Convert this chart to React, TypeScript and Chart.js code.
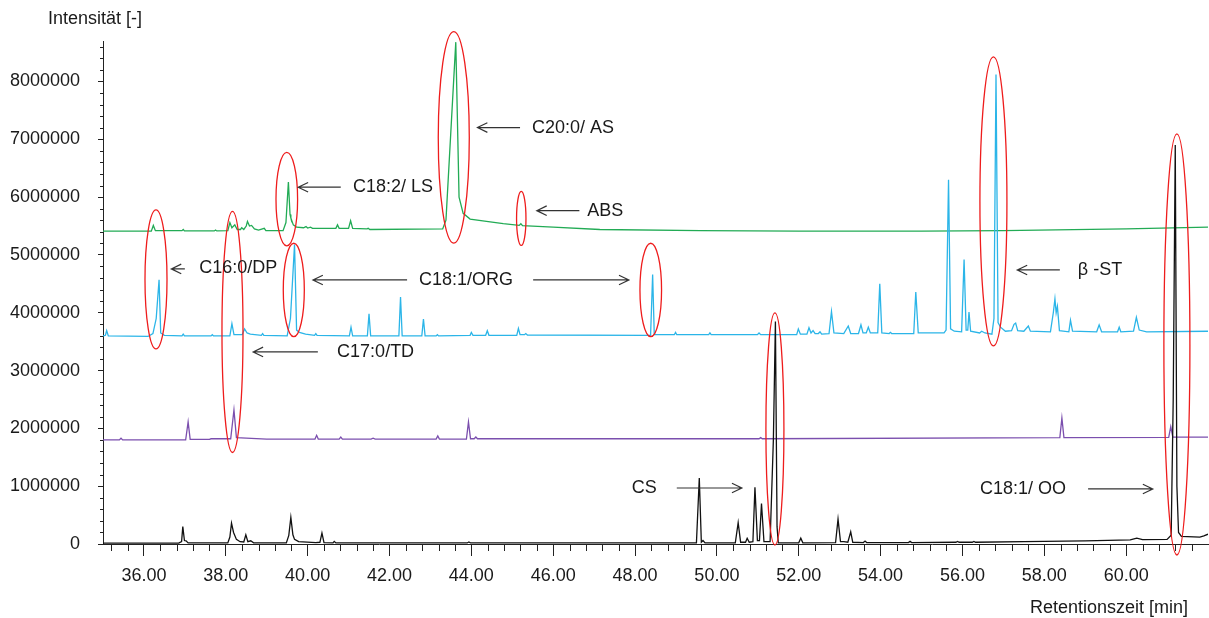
import React, { useEffect, useRef } from 'react';
import { Chart, registerables } from 'chart.js';

Chart.register(...registerables);

const FONT = "'Liberation Sans', Arial, Helvetica, sans-serif";

// Chromatogram traces: [retention time (min), intensity]
const blackTrace: [number, number][] = [
  [35.0, 15000], [36.85, 15000], [36.92, 40000], [36.95, 300000], [36.99, 60000], [37.03, 55000], [37.08, 20000],
  [38.05, 20000], [38.1, 120000], [38.14, 360000], [38.19, 200000], [38.26, 80000], [38.35, 40000], [38.44, 35000],
  [38.49, 160000], [38.54, 40000], [38.61, 55000], [38.68, 20000], [39.48, 20000], [39.54, 150000], [39.59, 460000],
  [39.64, 160000], [39.68, 80000], [39.78, 40000], [40.2, 25000], [40.3, 30000], [40.35, 190000], [40.4, 25000],
  [40.62, 20000], [40.65, 45000], [40.69, 18000], [43.9, 18000], [43.94, 35000], [43.98, 18000], [49.5, 18000],
  [49.57, 1140000], [49.62, 30000], [49.66, 60000], [49.71, 18000], [50.45, 20000], [50.52, 370000], [50.58, 30000],
  [50.7, 30000], [50.74, 100000], [50.79, 30000], [50.88, 40000], [50.93, 980000], [50.99, 60000], [51.04, 60000],
  [51.09, 700000], [51.15, 40000], [51.3, 40000], [51.38, 1800000], [51.43, 3850000], [51.47, 300000], [51.5, 20000],
  [52.0, 20000], [52.05, 100000], [52.1, 20000], [52.9, 25000], [52.96, 430000], [53.02, 40000], [53.1, 40000],
  [53.2, 30000], [53.27, 210000], [53.32, 30000], [53.58, 25000], [53.62, 50000], [53.66, 25000], [54.68, 25000],
  [54.72, 45000], [54.76, 25000], [55.84, 30000], [55.88, 45000], [55.92, 30000], [56.24, 30000], [56.28, 45000],
  [56.32, 30000], [57.5, 40000], [59.0, 55000], [60.1, 70000], [60.26, 100000], [60.4, 75000], [61.0, 80000],
  [61.1, 150000], [61.15, 2500000], [61.2, 6900000], [61.24, 1000000], [61.28, 200000], [61.35, 130000],
  [61.8, 120000], [61.9, 140000], [62.0, 170000],
];

const purpleTrace: [number, number][] = [
  [35.0, 1800000], [35.4, 1800000], [35.44, 1830000], [35.48, 1800000], [37.02, 1800000], [37.08, 2110000],
  [37.13, 1810000], [37.6, 1810000], [37.64, 1820000], [38.12, 1820000], [38.2, 2320000], [38.26, 1840000],
  [38.5, 1830000], [39.0, 1815000], [40.18, 1815000], [40.22, 1880000], [40.26, 1815000], [40.77, 1815000],
  [40.81, 1850000], [40.85, 1815000], [41.55, 1815000], [41.6, 1830000], [41.65, 1815000], [43.14, 1815000],
  [43.18, 1870000], [43.22, 1815000], [43.88, 1815000], [43.93, 2110000], [43.98, 1820000], [44.07, 1820000],
  [44.11, 1850000], [44.15, 1820000], [51.03, 1820000], [51.07, 1840000], [51.11, 1820000], [58.38, 1840000],
  [58.43, 2180000], [58.48, 1840000], [61.04, 1845000], [61.09, 2030000], [61.14, 1850000], [62.0, 1850000],
];

const blueTrace: [number, number][] = [
  [35.0, 3600000], [35.06, 3610000], [35.09, 3690000], [35.13, 3600000], [36.1, 3590000], [36.22, 3640000],
  [36.3, 3900000], [36.37, 4570000], [36.41, 3650000], [36.5, 3610000], [36.93, 3600000], [36.96, 3630000],
  [36.99, 3600000], [37.64, 3600000], [37.67, 3620000], [37.7, 3600000], [38.1, 3600000], [38.15, 3810000],
  [38.2, 3620000], [38.4, 3620000], [38.46, 3720000], [38.52, 3650000], [38.6, 3630000], [38.87, 3610000],
  [38.9, 3640000], [38.93, 3610000], [39.5, 3600000], [39.58, 3900000], [39.68, 5180000], [39.73, 3700000],
  [39.8, 3660000], [39.95, 3630000], [40.17, 3610000], [40.2, 3640000], [40.23, 3610000], [41.02, 3600000],
  [41.06, 3750000], [41.1, 3600000], [41.46, 3600000], [41.5, 3980000], [41.54, 3600000], [42.23, 3600000],
  [42.27, 4270000], [42.31, 3600000], [42.79, 3600000], [42.83, 3890000], [42.87, 3600000], [43.14, 3600000],
  [43.17, 3620000], [43.2, 3600000], [43.97, 3610000], [44.0, 3660000], [44.04, 3610000], [44.35, 3610000],
  [44.39, 3690000], [44.43, 3610000], [45.11, 3610000], [45.15, 3730000], [45.19, 3620000], [45.3, 3620000],
  [45.33, 3640000], [45.37, 3615000], [48.38, 3610000], [48.43, 4660000], [48.47, 3620000], [48.96, 3620000],
  [48.99, 3660000], [49.02, 3620000], [49.8, 3620000], [49.83, 3650000], [49.86, 3620000], [50.99, 3620000],
  [51.03, 3650000], [51.07, 3620000], [51.95, 3620000], [51.99, 3720000], [52.04, 3630000], [52.2, 3630000],
  [52.25, 3740000], [52.3, 3650000], [52.35, 3690000], [52.4, 3640000], [52.48, 3640000], [52.52, 3670000],
  [52.56, 3630000], [52.74, 3640000], [52.8, 4020000], [52.86, 3650000], [53.1, 3640000], [53.21, 3770000],
  [53.27, 3640000], [53.46, 3640000], [53.52, 3790000], [53.57, 3650000], [53.65, 3650000], [53.7, 3750000],
  [53.75, 3650000], [53.93, 3650000], [53.98, 4500000], [54.03, 3650000], [54.21, 3640000], [54.24, 3660000],
  [54.27, 3640000], [54.81, 3640000], [54.86, 4360000], [54.92, 3650000], [55.55, 3650000], [55.6, 3700000],
  [55.66, 6300000], [55.71, 3720000], [55.8, 3680000], [55.98, 3670000], [56.04, 4920000], [56.09, 3700000],
  [56.13, 3700000], [56.16, 4010000], [56.2, 3680000], [56.42, 3650000], [56.47, 3680000], [56.55, 3650000],
  [56.72, 3630000], [56.77, 3900000], [56.82, 8120000], [56.87, 3830000], [56.93, 3750000], [57.05, 3680000],
  [57.2, 3690000], [57.26, 3800000], [57.3, 3820000], [57.35, 3690000], [57.5, 3680000], [57.61, 3770000],
  [57.66, 3680000], [58.15, 3670000], [58.22, 4000000], [58.26, 4240000], [58.29, 4000000], [58.32, 4110000],
  [58.37, 3690000], [58.6, 3670000], [58.64, 3870000], [58.69, 3680000], [59.28, 3670000], [59.34, 3790000],
  [59.4, 3670000], [59.79, 3670000], [59.83, 3750000], [59.87, 3670000], [60.18, 3680000], [60.25, 3920000],
  [60.32, 3700000], [60.5, 3670000], [62.0, 3680000],
];

const greenTrace: [number, number][] = [
  [35.0, 5410000], [35.5, 5410000], [36.18, 5410000], [36.23, 5510000], [36.28, 5420000], [36.93, 5420000],
  [36.96, 5440000], [36.99, 5415000], [37.72, 5415000], [37.75, 5430000], [37.78, 5415000], [38.05, 5420000],
  [38.1, 5560000], [38.15, 5470000], [38.22, 5520000], [38.28, 5440000], [38.36, 5440000], [38.39, 5470000],
  [38.44, 5440000], [38.5, 5500000], [38.53, 5580000], [38.58, 5500000], [38.63, 5510000], [38.7, 5450000],
  [38.8, 5430000], [38.94, 5460000], [38.98, 5420000], [39.4, 5420000], [39.47, 5560000], [39.53, 6260000],
  [39.57, 5700000], [39.59, 5640000], [39.65, 5520000], [39.73, 5480000], [39.9, 5470000], [39.96, 5490000],
  [40.0, 5465000], [40.07, 5480000], [40.12, 5460000], [40.69, 5460000], [40.73, 5520000], [40.77, 5460000],
  [41.0, 5460000], [41.05, 5590000], [41.1, 5460000], [41.45, 5450000], [41.48, 5460000], [41.52, 5440000],
  [43.3, 5450000], [43.38, 5600000], [43.62, 8680000], [43.7, 6000000], [43.8, 5720000], [43.97, 5620000],
  [44.37, 5580000], [44.78, 5540000], [45.17, 5510000], [45.21, 5540000], [45.25, 5505000], [46.0, 5480000],
  [47.14, 5440000], [49.6, 5420000], [52.0, 5410000], [55.0, 5410000], [57.0, 5420000], [60.0, 5450000],
  [62.0, 5480000],
];

const xMajorTicks = [36, 38, 40, 42, 44, 46, 48, 50, 52, 54, 56, 58, 60];
const yMajorTicks = [0, 1000000, 2000000, 3000000, 4000000, 5000000, 6000000, 7000000, 8000000];

const yAxisTitle = 'Intensität [-]';
const xAxisTitle = 'Retentionszeit [min]';

// peak labels: text, time, intensity (left edge / vertical centre)
const peakLabels: { text: string; t: number; v: number }[] = [
  { text: 'C20:0/ AS', t: 45.48, v: 7203000 },
  { text: 'C18:2/ LS', t: 41.11, v: 6171000 },
  { text: 'ABS', t: 46.83, v: 5766000 },
  { text: 'C16:0/DP', t: 37.35, v: 4767000 },
  { text: 'C18:1/ORG', t: 42.72, v: 4567000 },
  { text: 'C17:0/TD', t: 40.72, v: 3322000 },
  { text: 'β -ST', t: 58.82, v: 4740000 },
  { text: 'CS', t: 47.92, v: 969000 },
  { text: 'C18:1/ OO', t: 56.43, v: 952000 },
];

// arrows: tail -> tip, [time, intensity]
const peakArrows: { from: [number, number]; to: [number, number] }[] = [
  { from: [45.19, 7203000], to: [44.15, 7203000] },
  { from: [40.81, 6171000], to: [39.77, 6171000] },
  { from: [46.64, 5766000], to: [45.6, 5766000] },
  { from: [37.0, 4758000], to: [36.67, 4758000] },
  { from: [42.43, 4567000], to: [40.13, 4567000] },
  { from: [45.51, 4567000], to: [47.85, 4567000] },
  { from: [40.25, 3322000], to: [38.67, 3322000] },
  { from: [58.38, 4740000], to: [57.34, 4740000] },
  { from: [49.02, 969000], to: [50.61, 969000] },
  { from: [59.07, 952000], to: [60.65, 952000] },
];

// highlight ellipses: [centre time, centre intensity, time radius, intensity radius]
const highlightEllipses: [number, number, number, number][] = [
  [36.295, 4576000, 0.269, 1202000],
  [38.164, 3668000, 0.257, 2085000],
  [39.491, 5964000, 0.264, 808000],
  [39.662, 4394000, 0.257, 808000],
  [43.571, 7033000, 0.379, 1830000],
  [45.22, 5631000, 0.115, 467000],
  [48.384, 4394000, 0.264, 808000],
  [51.418, 1990000, 0.22, 2007000],
  [56.757, 5926000, 0.33, 2500000],
  [61.24, 3452000, 0.318, 3642000],
];

const overlayPlugin = {
  id: 'overlay',
  afterDraw(chart: any) {
    const ctx: CanvasRenderingContext2D = chart.ctx;
    const xs = chart.scales.x;
    const ys = chart.scales.y;
    const ca = chart.chartArea;
    const X = (t: number) => xs.getPixelForValue(t);
    const Y = (v: number) => ys.getPixelForValue(v);
    ctx.save();

    // minor ticks
    ctx.strokeStyle = '#222';
    ctx.lineWidth = 1;
    ctx.beginPath();
    for (let k = 0; k <= 66; k++) {
      if (k % 5 === 2) continue;
      const px = Math.round(X(35.2 + 0.4 * k)) + 0.5;
      ctx.moveTo(px, ca.bottom);
      ctx.lineTo(px, ca.bottom + 7);
    }
    for (let k = 1; k <= 43; k++) {
      if (k % 5 === 0) continue;
      const py = Math.round(Y(200000 * k)) + 0.5;
      ctx.moveTo(ca.left - 3, py);
      ctx.lineTo(ca.left, py);
    }
    ctx.stroke();

    // ellipses
    ctx.strokeStyle = '#ee1c1c';
    ctx.lineWidth = 1.3;
    for (const [t, v, dt, dv] of highlightEllipses) {
      const cx = X(t);
      const cy = Y(v);
      const rx = Math.abs(X(t + dt) - cx);
      const ry = Math.abs(Y(v + dv) - cy);
      ctx.beginPath();
      ctx.ellipse(cx, cy, rx, ry, 0, 0, Math.PI * 2);
      ctx.stroke();
    }

    // arrows
    ctx.strokeStyle = '#333';
    ctx.lineWidth = 1.2;
    for (const a of peakArrows) {
      const x1 = X(a.from[0]);
      const y1 = Y(a.from[1]);
      const x2 = X(a.to[0]);
      const y2 = Y(a.to[1]);
      const ang = Math.atan2(y2 - y1, x2 - x1);
      ctx.beginPath();
      ctx.moveTo(x1, y1);
      ctx.lineTo(x2, y2);
      const hl = 11;
      const hw = 0.45;
      ctx.moveTo(x2 - hl * Math.cos(ang - hw), y2 - hl * Math.sin(ang - hw));
      ctx.lineTo(x2, y2);
      ctx.lineTo(x2 - hl * Math.cos(ang + hw), y2 - hl * Math.sin(ang + hw));
      ctx.stroke();
    }

    // labels
    ctx.fillStyle = '#1a1a1a';
    ctx.font = `18px ${FONT}`;
    ctx.textAlign = 'left';
    ctx.textBaseline = 'middle';
    for (const l of peakLabels) {
      ctx.fillText(l.text, X(l.t), Y(l.v));
    }

    // axis titles
    ctx.textAlign = 'left';
    ctx.fillText(yAxisTitle, ca.left - 55, ca.top - 22);
    ctx.textAlign = 'right';
    ctx.fillText(xAxisTitle, ca.right - 20, ca.bottom + 64);
    ctx.restore();
  },
};

export default function App() {
  const canvasRef = useRef<HTMLCanvasElement | null>(null);

  useEffect(() => {
    const canvas = canvasRef.current;
    if (!canvas) return;
    const mk = (data: [number, number][], color: string) => ({
      data: data.map(([x, y]) => ({ x, y })),
      borderColor: color,
      backgroundColor: color,
      borderWidth: 1.3,
      pointRadius: 0,
      tension: 0,
      fill: false,
    });
    const chart = new Chart(canvas, {
      type: 'line',
      data: {
        datasets: [
          mk(blackTrace, '#111111'),
          mk(purpleTrace, '#7b4fae'),
          mk(blueTrace, '#2bb5e8'),
          mk(greenTrace, '#22ab55'),
        ],
      },
      options: {
        animation: false,
        responsive: true,
        maintainAspectRatio: false,
        layout: { padding: { top: 41, right: 1, left: 0, bottom: 0 } },
        plugins: { legend: { display: false }, tooltip: { enabled: false }, title: { display: false } },
        scales: {
          x: {
            type: 'linear',
            min: 35,
            max: 62,
            afterBuildTicks: (s: any) => {
              s.ticks = xMajorTicks.map((value) => ({ value }));
            },
            afterFit: (s: any) => {
              s.height = 74;
            },
            ticks: {
              autoSkip: false,
              maxRotation: 0,
              padding: 9,
              color: '#1a1a1a',
              font: { family: FONT, size: 18 },
              callback: (v: any) => Number(v).toFixed(2),
            },
            grid: { drawOnChartArea: false, drawTicks: true, tickLength: 12, tickColor: '#222', color: '#222' },
            border: { display: true, color: '#222', width: 1 },
          },
          y: {
            type: 'linear',
            min: 0,
            max: 8700000,
            afterBuildTicks: (s: any) => {
              s.ticks = yMajorTicks.map((value) => ({ value }));
            },
            afterFit: (s: any) => {
              s.width = 103;
            },
            ticks: {
              autoSkip: false,
              padding: 18,
              color: '#1a1a1a',
              font: { family: FONT, size: 18 },
              callback: (v: any) => String(v),
            },
            grid: { drawOnChartArea: false, drawTicks: true, tickLength: 5, tickColor: '#222', color: '#222' },
            border: { display: true, color: '#222', width: 1 },
          },
        },
      },
      plugins: [overlayPlugin],
    } as any);
    return () => chart.destroy();
  }, []);

  return (
    <div style={{ position: 'fixed', left: 0, top: 0, width: 1209, height: 618, background: '#fff' }}>
      <canvas ref={canvasRef} />
    </div>
  );
}
